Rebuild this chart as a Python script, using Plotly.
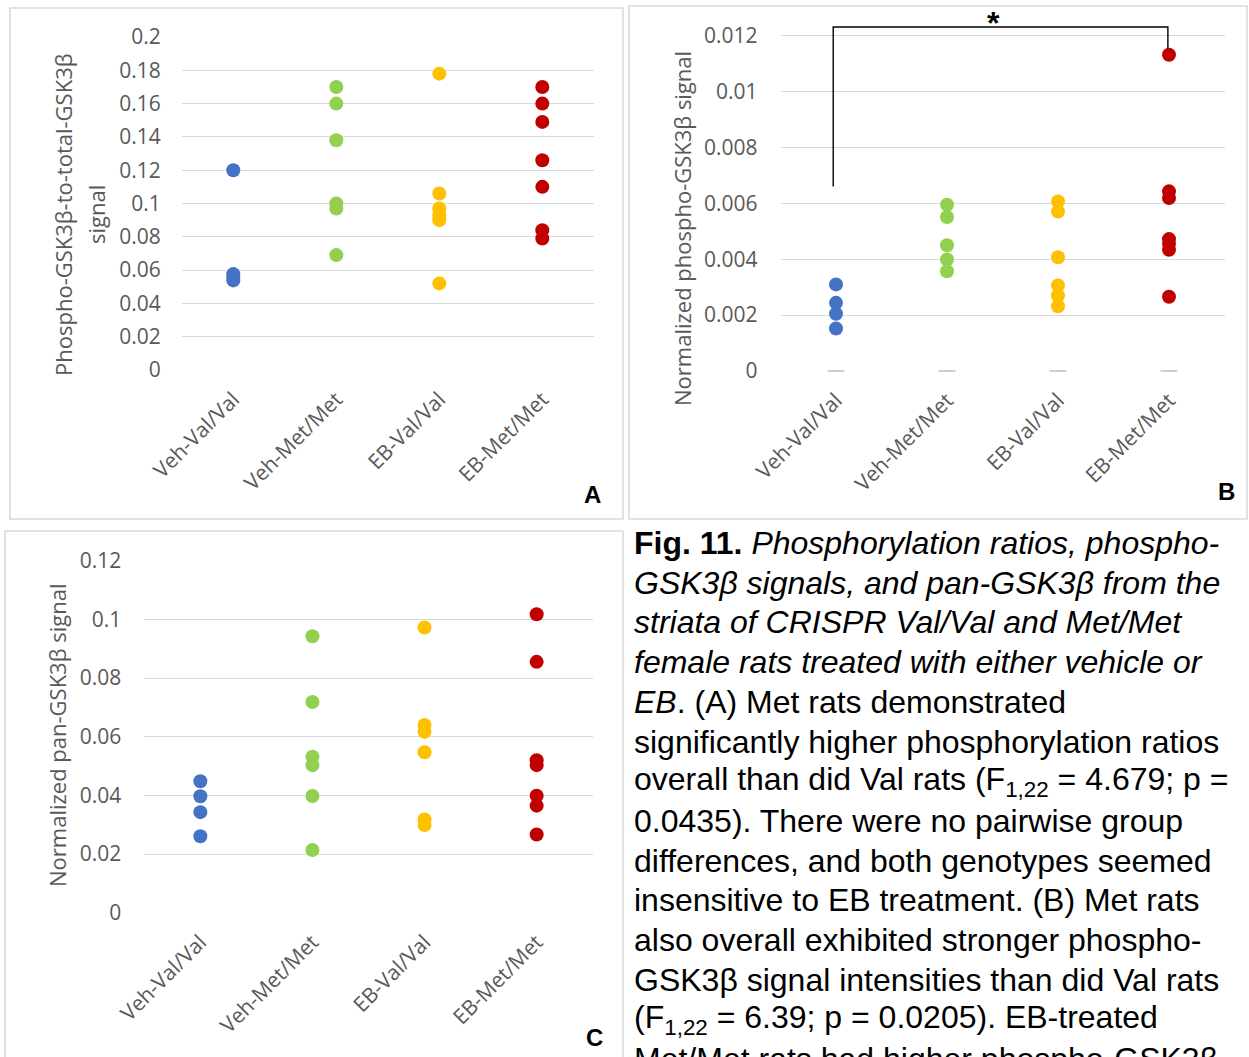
import plotly.graph_objects as go

W, H = 1249, 1057

categories = ["Veh-Val/Val", "Veh-Met/Met", "EB-Val/Val", "EB-Met/Met"]

# Panel A: phospho-to-total ratio
a_veh_val = [0.120, 0.0576, 0.0556, 0.0538]
a_veh_met = [0.170, 0.160, 0.138, 0.100, 0.097, 0.069]
a_eb_val = [0.178, 0.106, 0.097, 0.093, 0.090, 0.052]
a_eb_met = [0.170, 0.160, 0.149, 0.126, 0.110, 0.084, 0.079]
a_tickvals = [0, 0.02, 0.04, 0.06, 0.08, 0.1, 0.12, 0.14, 0.16, 0.18, 0.2]
a_ticktext = ["0", "0.02", "0.04", "0.06", "0.08", "0.1", "0.12", "0.14", "0.16", "0.18", "0.2"]

# Panel B: normalized phospho-GSK3b signal
b_veh_val = [0.0031, 0.00244, 0.00205, 0.00152]
b_veh_met = [0.00595, 0.00551, 0.0045, 0.00399, 0.00357]
b_eb_val = [0.00607, 0.00571, 0.00407, 0.00306, 0.0027, 0.00232]
b_eb_met = [0.01132, 0.00643, 0.00619, 0.00472, 0.00455, 0.00434, 0.00266]
b_zero_marks = [0, 0, 0, 0]
b_tickvals = [0, 0.002, 0.004, 0.006, 0.008, 0.01, 0.012]
b_ticktext = ["0", "0.002", "0.004", "0.006", "0.008", "0.01", "0.012"]
b_bracket_left = 0.0066
b_bracket_top = 0.01231
b_bracket_right = 0.01155

# Panel C: normalized pan-GSK3b signal
c_veh_val = [0.0448, 0.0397, 0.0343, 0.0261]
c_veh_met = [0.0942, 0.0718, 0.0532, 0.0503, 0.0398, 0.0214]
c_eb_val = [0.0972, 0.0640, 0.0617, 0.0547, 0.0318, 0.0299]
c_eb_met = [0.1017, 0.0855, 0.0520, 0.0503, 0.0399, 0.0365, 0.0267]
c_tickvals = [0, 0.02, 0.04, 0.06, 0.08, 0.1, 0.12]
c_ticktext = ["0", "0.02", "0.04", "0.06", "0.08", "0.1", "0.12"]

colors = ["#4472C4", "#92D050", "#FFC000", "#C00000"]
GRAY = "#595959"
GRID = "#D9D9D9"
TFONT = "Open Sans"


def px(x):
    return x / W


def py(y):
    return 1 - y / H


fig = go.Figure()

panels = [
    ("x", "y", [a_veh_val, a_veh_met, a_eb_val, a_eb_met]),
    ("x2", "y2", [b_veh_val, b_veh_met, b_eb_val, b_eb_met]),
    ("x3", "y3", [c_veh_val, c_veh_met, c_eb_val, c_eb_met]),
]
for xa, ya, groups in panels:
    for i, vals in enumerate(groups):
        fig.add_trace(go.Scatter(
            x=[categories[i]] * len(vals), y=vals, xaxis=xa, yaxis=ya,
            mode="markers", cliponaxis=False, showlegend=False,
            marker=dict(color=colors[i], size=14, line=dict(width=0)),
        ))

fig.add_trace(go.Scatter(
    x=categories, y=b_zero_marks, xaxis="x2", yaxis="y2", mode="markers",
    cliponaxis=False, showlegend=False,
    marker=dict(symbol="line-ew", size=12, line=dict(color="#BFBFBF", width=1.5)),
))


def xax(x0, x1, standoff):
    return dict(domain=[px(x0), px(x1)], range=[-0.5, 3.5], type="category",
                categoryarray=categories, showgrid=False, zeroline=False,
                showline=False, ticks="", tickangle=-45, automargin=False,
                tickfont=dict(family=TFONT, size=21, color=GRAY),
                ticklabelstandoff=standoff, fixedrange=True)


def yax(y0, y1, rng, tv, tt, standoff):
    return dict(domain=[py(y0), py(y1)], range=rng, tickvals=tv, ticktext=tt,
                showgrid=True, gridcolor=GRID, gridwidth=1.3, zeroline=False,
                showline=False, ticks="", automargin=False,
                tickfont=dict(family=TFONT, size=21, color=GRAY),
                ticklabelstandoff=standoff, fixedrange=True)


# pixel geometry
A_x0, A_x1, A_y0, A_y1 = 181.8, 593.8, 370.0, 37.0
B_x0, B_x1 = 780.5, 1224.5
B_zero, B_top_tick = 371.0, 35.7
B_rng_top = 0.0128
B_y1 = B_zero - (B_zero - B_top_tick) * B_rng_top / 0.012
C_x0, C_x1, C_y0, C_y1 = 144.3, 592.7, 912.8, 560.6

fig.update_layout(
    width=W, height=H, margin=dict(l=0, r=0, t=0, b=0, autoexpand=False),
    paper_bgcolor="white", plot_bgcolor="white",
    xaxis=dict(xax(A_x0, A_x1, 12), anchor="y"),
    yaxis=dict(yax(A_y0, A_y1, [0, 0.2], a_tickvals, a_ticktext, 20), anchor="x"),
    xaxis2=dict(xax(B_x0, B_x1, 12), anchor="y2"),
    yaxis2=dict(yax(B_zero, B_y1, [0, B_rng_top], b_tickvals, b_ticktext, 22), anchor="x2"),
    xaxis3=dict(xax(C_x0, C_x1, 12), anchor="y3"),
    yaxis3=dict(yax(C_y0, C_y1, [0, 0.12], c_tickvals, c_ticktext, 22), anchor="x3"),
)

shapes = []
# panel frames
for (x0, y0, x1, y1) in [(10, 8, 623, 519), (629, 6, 1247, 519), (5, 531, 623, 1070)]:
    shapes.append(dict(type="rect", xref="paper", yref="paper",
                       x0=px(x0), x1=px(x1), y0=py(y1), y1=py(y0),
                       line=dict(color=GRID, width=1.5), fillcolor="rgba(0,0,0,0)"))
# significance bracket in panel B
bx_left, bx_right = -0.025, 2.99
shapes.append(dict(type="path", xref="x2", yref="y2",
                   path=f"M {bx_left},{b_bracket_left} L {bx_left},{b_bracket_top} "
                        f"L {bx_right},{b_bracket_top} L {bx_right},{b_bracket_right}",
                   line=dict(color="black", width=1.4)))
fig.update_layout(shapes=shapes)

ann = []
C_ = dict(xref="paper", yref="paper", xanchor="center", yanchor="middle", showarrow=False)
# axis titles
TT = dict(family=TFONT, size=22, color=GRAY)
ann.append(dict(C_, text="Phospho-GSK3β-to-total-GSK3β", x=px(63), y=py(215),
                textangle=-90, font=TT))
ann.append(dict(C_, text="signal", x=px(96), y=py(215), textangle=-90, font=TT))
ann.append(dict(C_, text="Normalized phospho-GSK3β signal", x=px(682), y=py(229),
                textangle=-90, font=TT))
ann.append(dict(C_, text="Normalized pan-GSK3β signal", x=px(57), y=py(736),
                textangle=-90, font=TT))
# panel letters
LF = dict(family="Liberation Sans", size=24, color="black")
for letter, x, y in [("A", 592, 494), ("B", 1226, 491), ("C", 594, 1037)]:
    ann.append(dict(C_, text=f"<b>{letter}</b>", x=px(x), y=py(y), font=LF))
# star
ann.append(dict(text="<b>*</b>", x=1.42, y=0.01247, xref="x2", yref="y2", showarrow=False,
                xanchor="center", yanchor="middle",
                font=dict(family="Liberation Sans", size=32, color="black")))

# caption
caption_lines = [
    "<b>Fig. 11.</b> <i>Phosphorylation ratios, phospho-</i>",
    "<i>GSK3β signals, and pan-GSK3β from the</i>",
    "<i>striata of CRISPR Val/Val and Met/Met</i>",
    "<i>female rats treated with either vehicle or</i>",
    "<i>EB</i>. (A) Met rats demonstrated",
    "significantly higher phosphorylation ratios",
    "overall than did Val rats (F<sub>1,22</sub> = 4.679; p =",
    "0.0435). There were no pairwise group",
    "differences, and both genotypes seemed",
    "insensitive to EB treatment. (B) Met rats",
    "also overall exhibited stronger phospho-",
    "GSK3β signal intensities than did Val rats",
    "(F<sub>1,22</sub> = 6.39; p = 0.0205). EB-treated",
    "Met/Met rats had higher phospho-GSK3β",
]
CF = dict(family="Liberation Sans", size=32, color="black")
for k, line in enumerate(caption_lines):
    ann.append(dict(text=line, x=px(632), y=py(543 + 39.7 * k), xref="paper", yref="paper",
                    xanchor="left", yanchor="middle", showarrow=False, font=CF))

fig.update_layout(annotations=ann)
fig.write_html("out.html")
